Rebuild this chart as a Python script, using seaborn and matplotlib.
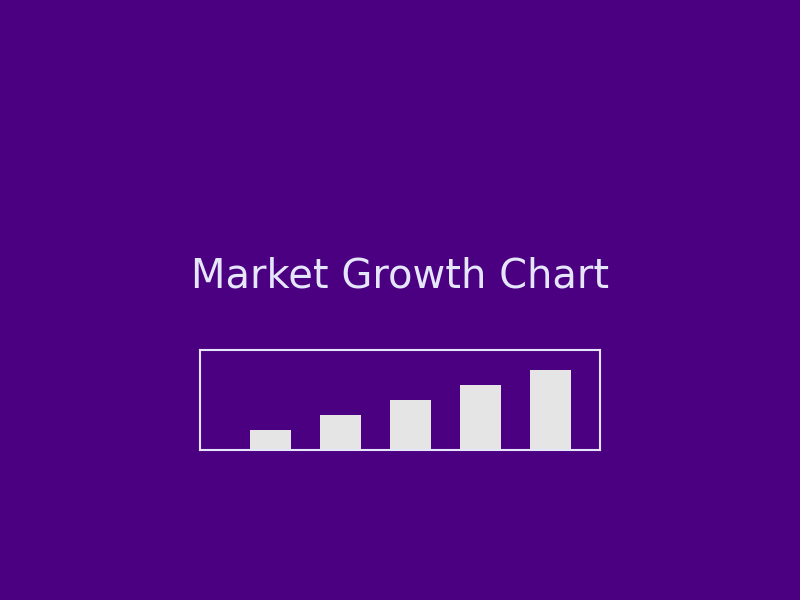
import matplotlib
matplotlib.use("Agg")
import matplotlib.pyplot as plt
import seaborn as sns
import pandas as pd

# chart data
periods = ["P1", "P2", "P3", "P4", "P5"]
growth = [20, 35, 50, 65, 80]

bg = "#4B0082"
fg = "#E6E6FA"
bar_color = "#E5E5E5"

sns.set_style("white")
plt.rcParams['font.family'] = ['DejaVu Sans']

df = pd.DataFrame({"period": periods, "growth": growth})

fig = plt.figure(figsize=(8, 6), dpi=100, facecolor=bg)
fig.text(0.5, 1 - 277 / 600, "Market Growth Chart", color=fg, fontsize=28.8,
         ha="center", va="center")

ax = fig.add_axes([200 / 800, 150 / 600, 400 / 800, 100 / 600])
ax.set_facecolor(bg)
sns.barplot(data=df, x="period", y="growth", color=bar_color, width=41 / 70,
            saturation=1, linewidth=0, ax=ax)
ax.set_xlim(-1, 330 / 70)
ax.set_ylim(0, 100)
ax.set_xticks([])
ax.set_yticks([])
ax.set_xlabel("")
ax.set_ylabel("")
for s in ax.spines.values():
    s.set_visible(True)
    s.set_color(fg)
    s.set_linewidth(1.5)
    s.set_zorder(3)

fig.savefig("out.png", dpi=100, facecolor=bg)
